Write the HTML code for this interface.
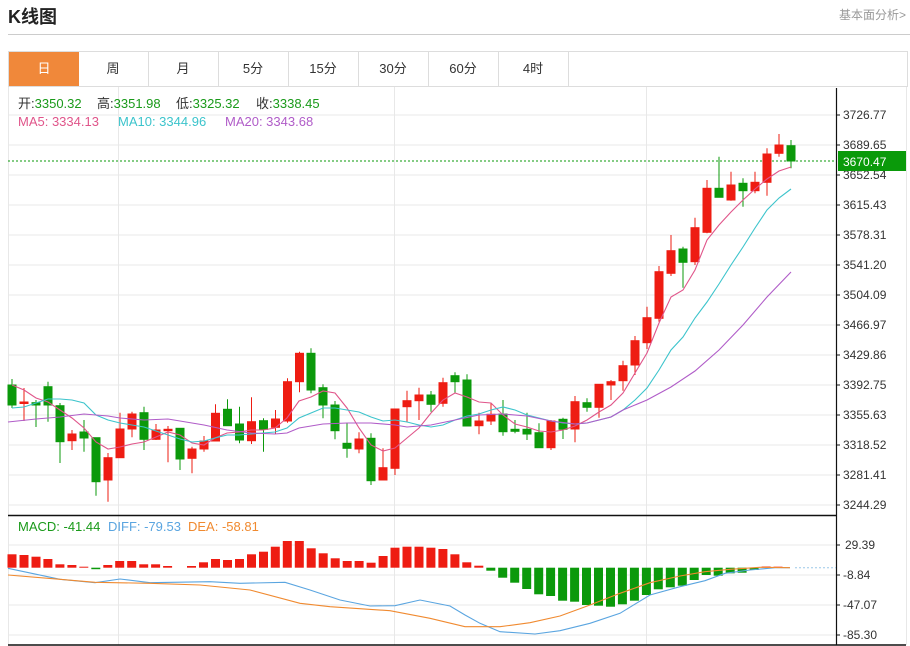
<!DOCTYPE html>
<html><head><meta charset="utf-8"><style>
body{margin:0;width:910px;height:646px;background:#fff;overflow:hidden;font-family:"Liberation Sans","Noto Sans CJK SC",sans-serif;position:relative}
.t{position:absolute;left:8px;top:3px;font-size:18px;font-weight:bold;color:#222}
.lk{position:absolute;right:4px;top:6px;font-size:12px;color:#999}
.hr{position:absolute;left:8px;right:0;top:34px;border-top:1px solid #ccc}
.tabs{position:absolute;left:8px;top:51px;width:898px;height:34px;border:1px solid #ddd;box-sizing:content-box}
.tab{position:absolute;top:0;height:34px;width:70px;border-right:1px solid #ddd;text-align:center;line-height:34px;font-size:13px;color:#333}
.tab.on{background:#f0883a;color:#fff;border-right:none}
svg{position:absolute;left:0;top:0}
</style></head><body>
<div class="t">K线图</div>
<div class="lk">基本面分析&gt;</div>
<div class="hr"></div>
<div class="tabs">
<div class="tab on" style="left:0">日</div>
<div class="tab" style="left:69px">周</div>
<div class="tab" style="left:139px">月</div>
<div class="tab" style="left:209px">5分</div>
<div class="tab" style="left:279px">15分</div>
<div class="tab" style="left:349px">30分</div>
<div class="tab" style="left:419px">60分</div>
<div class="tab" style="left:489px">4时</div>
</div>
<svg width="910" height="646" viewBox="0 0 910 646" font-family="Liberation Sans, Noto Sans CJK SC, sans-serif">
<g stroke="#e8e8e8" stroke-width="1">
<line x1="8" y1="115" x2="836" y2="115"/><line x1="8" y1="145" x2="836" y2="145"/><line x1="8" y1="175" x2="836" y2="175"/><line x1="8" y1="205" x2="836" y2="205"/><line x1="8" y1="235" x2="836" y2="235"/><line x1="8" y1="265" x2="836" y2="265"/><line x1="8" y1="295" x2="836" y2="295"/><line x1="8" y1="325" x2="836" y2="325"/><line x1="8" y1="355" x2="836" y2="355"/><line x1="8" y1="385" x2="836" y2="385"/><line x1="8" y1="415" x2="836" y2="415"/><line x1="8" y1="445" x2="836" y2="445"/><line x1="8" y1="475" x2="836" y2="475"/><line x1="8" y1="505" x2="836" y2="505"/>
<line x1="8" y1="545" x2="836" y2="545"/><line x1="8" y1="575" x2="836" y2="575"/><line x1="8" y1="605" x2="836" y2="605"/><line x1="8" y1="635" x2="836" y2="635"/>
<line x1="118.5" y1="87" x2="118.5" y2="645"/><line x1="394.5" y1="87" x2="394.5" y2="645"/><line x1="646.5" y1="87" x2="646.5" y2="645"/>
<line x1="8.5" y1="87" x2="8.5" y2="645"/><line x1="906.5" y1="87" x2="906.5" y2="645"/>
</g>
<line x1="8" y1="515.5" x2="836" y2="515.5" stroke="#111" stroke-width="1.5"/>
<line x1="8" y1="645" x2="906" y2="645" stroke="#111" stroke-width="1.5"/>
<line x1="836.5" y1="88" x2="836.5" y2="645" stroke="#111" stroke-width="1.2"/>
<g stroke="#111"><line x1="836" y1="115" x2="840" y2="115"/><line x1="836" y1="145" x2="840" y2="145"/><line x1="836" y1="175" x2="840" y2="175"/><line x1="836" y1="205" x2="840" y2="205"/><line x1="836" y1="235" x2="840" y2="235"/><line x1="836" y1="265" x2="840" y2="265"/><line x1="836" y1="295" x2="840" y2="295"/><line x1="836" y1="325" x2="840" y2="325"/><line x1="836" y1="355" x2="840" y2="355"/><line x1="836" y1="385" x2="840" y2="385"/><line x1="836" y1="415" x2="840" y2="415"/><line x1="836" y1="445" x2="840" y2="445"/><line x1="836" y1="475" x2="840" y2="475"/><line x1="836" y1="505" x2="840" y2="505"/><line x1="836" y1="545" x2="840" y2="545"/><line x1="836" y1="575" x2="840" y2="575"/><line x1="836" y1="605" x2="840" y2="605"/><line x1="836" y1="635" x2="840" y2="635"/></g>
<g font-size="12" fill="#333">
<text x="843" y="119">3726.77</text><text x="843" y="149">3689.65</text><text x="843" y="179">3652.54</text><text x="843" y="209">3615.43</text><text x="843" y="239">3578.31</text><text x="843" y="269">3541.20</text><text x="843" y="299">3504.09</text><text x="843" y="329">3466.97</text><text x="843" y="359">3429.86</text><text x="843" y="389">3392.75</text><text x="843" y="419">3355.63</text><text x="843" y="449">3318.52</text><text x="843" y="479">3281.41</text><text x="843" y="509">3244.29</text>
<text x="845" y="549">29.39</text><text x="843" y="579">-8.84</text><text x="843" y="609">-47.07</text><text x="843" y="639">-85.30</text>
</g>
<line x1="8" y1="161" x2="836" y2="161" stroke="#0a9a0a" stroke-dasharray="2,2"/>
<rect x="838" y="151" width="68" height="20" fill="#0a9a0a"/>
<text x="843" y="166" font-size="12" fill="#fff">3670.47</text>
<g font-size="13">
<text x="18" y="108" fill="#333">开:<tspan fill="#1a9a1a">3350.32</tspan></text>
<text x="97" y="108" fill="#333">高:<tspan fill="#1a9a1a">3351.98</tspan></text>
<text x="176" y="108" fill="#333">低:<tspan fill="#1a9a1a">3325.32</tspan></text>
<text x="256" y="108" fill="#333">收:<tspan fill="#1a9a1a">3338.45</tspan></text>
<text x="18" y="126" fill="#e0558a">MA5: 3334.13</text><text x="118" y="126" fill="#3cc4cc">MA10: 3344.96</text><text x="225" y="126" fill="#b05cc8">MA20: 3343.68</text>
<text x="18" y="531" fill="#1a9a1a">MACD: -41.44</text><text x="108" y="531" fill="#5aa5e0">DIFF: -79.53</text><text x="188" y="531" fill="#f08a30">DEA: -58.81</text>
</g>
<g stroke-width="1">
<g stroke="#0b990b" fill="#0b990b">
<line x1="12" y1="379" x2="12" y2="408"/><rect x="8" y="385" width="8" height="20"/>
<line x1="36" y1="400" x2="36" y2="427"/><rect x="32" y="402.7" width="8" height="2.3"/>
<line x1="48" y1="381.7" x2="48" y2="421.7"/><rect x="44" y="386.7" width="8" height="18.3"/>
<line x1="60" y1="403" x2="60" y2="463"/><rect x="56" y="405.7" width="8" height="36"/>
<line x1="84" y1="420" x2="84" y2="451.7"/><rect x="80" y="432" width="8" height="6"/>
<line x1="96" y1="437.7" x2="96" y2="495.7"/><rect x="92" y="437.7" width="8" height="44"/>
<line x1="144" y1="406.7" x2="144" y2="450"/><rect x="140" y="412.7" width="8" height="26.6"/>
<line x1="180" y1="428" x2="180" y2="470"/><rect x="176" y="428.3" width="8" height="30.7"/>
<line x1="227.5" y1="399.3" x2="227.5" y2="425.7"/><rect x="223.5" y="409.3" width="8" height="16.4"/>
<line x1="239.5" y1="406.7" x2="239.5" y2="443.3"/><rect x="235.5" y="424" width="8" height="16"/>
<line x1="263.5" y1="418.3" x2="263.5" y2="451.7"/><rect x="259.5" y="420.7" width="8" height="8.6"/>
<line x1="311" y1="348.3" x2="311" y2="393.3"/><rect x="307" y="353.3" width="8" height="36.7"/>
<line x1="323" y1="384.3" x2="323" y2="418.3"/><rect x="319" y="387.7" width="8" height="17.3"/>
<line x1="335" y1="401" x2="335" y2="439.3"/><rect x="331" y="405" width="8" height="25.7"/>
<line x1="347" y1="423.3" x2="347" y2="457.7"/><rect x="343" y="443.3" width="8" height="5"/>
<line x1="371" y1="433.3" x2="371" y2="485"/><rect x="367" y="438.3" width="8" height="42.4"/>
<line x1="431" y1="391" x2="431" y2="411.7"/><rect x="427" y="395" width="8" height="9.3"/>
<line x1="455" y1="372.3" x2="455" y2="393.3"/><rect x="451" y="375.7" width="8" height="6"/>
<line x1="467" y1="374.3" x2="467" y2="426"/><rect x="463" y="380" width="8" height="46"/>
<line x1="503" y1="400" x2="503" y2="435.7"/><rect x="499" y="414" width="8" height="17.7"/>
<line x1="515" y1="420" x2="515" y2="433.3"/><rect x="511" y="429.3" width="8" height="2"/>
<line x1="527" y1="412.7" x2="527" y2="440"/><rect x="523" y="429.3" width="8" height="4.7"/>
<line x1="539" y1="423.3" x2="539" y2="447.7"/><rect x="535" y="432.7" width="8" height="15"/>
<line x1="563" y1="417.7" x2="563" y2="439"/><rect x="559" y="419.3" width="8" height="10"/>
<line x1="587" y1="398.3" x2="587" y2="411.7"/><rect x="583" y="402.7" width="8" height="4.6"/>
<line x1="683" y1="246.7" x2="683" y2="287.7"/><rect x="679" y="249" width="8" height="13.3"/>
<line x1="719" y1="156.7" x2="719" y2="197.3"/><rect x="715" y="188.3" width="8" height="9"/>
<line x1="743" y1="178.3" x2="743" y2="206.7"/><rect x="739" y="183.3" width="8" height="7.4"/>
<line x1="791" y1="140" x2="791" y2="168.3"/><rect x="787" y="145.7" width="8" height="15.3"/>
</g>
<g stroke="#ee1c12" fill="#ee1c12">
<line x1="24" y1="388" x2="24" y2="421"/><rect x="20" y="402" width="8" height="1.5"/>
<line x1="72" y1="430" x2="72" y2="450"/><rect x="68" y="434" width="8" height="6.7"/>
<line x1="108" y1="453" x2="108" y2="501.7"/><rect x="104" y="457.7" width="8" height="22.3"/>
<line x1="120" y1="412.7" x2="120" y2="457.7"/><rect x="116" y="429" width="8" height="28.7"/>
<line x1="132" y1="411.7" x2="132" y2="437.3"/><rect x="128" y="414" width="8" height="15"/>
<line x1="156" y1="424" x2="156" y2="440"/><rect x="152" y="430" width="8" height="9.3"/>
<line x1="168" y1="426" x2="168" y2="462.3"/><rect x="164" y="429.3" width="8" height="1.4"/>
<line x1="192" y1="446.7" x2="192" y2="473.3"/><rect x="188" y="449" width="8" height="9.3"/>
<line x1="204" y1="436" x2="204" y2="451.7"/><rect x="200" y="441" width="8" height="8"/>
<line x1="215.5" y1="404.3" x2="215.5" y2="441"/><rect x="211.5" y="413.3" width="8" height="27.7"/>
<line x1="251.5" y1="397.3" x2="251.5" y2="444"/><rect x="247.5" y="421.7" width="8" height="19"/>
<line x1="275.5" y1="410" x2="275.5" y2="434"/><rect x="271.5" y="419" width="8" height="8.3"/>
<line x1="287.5" y1="378.3" x2="287.5" y2="422.7"/><rect x="283.5" y="381.7" width="8" height="39.3"/>
<line x1="299.5" y1="351.7" x2="299.5" y2="392.3"/><rect x="295.5" y="353.3" width="8" height="28.4"/>
<line x1="359" y1="432.3" x2="359" y2="453.3"/><rect x="355" y="439" width="8" height="10"/>
<line x1="383" y1="448.3" x2="383" y2="480"/><rect x="379" y="467.7" width="8" height="12.3"/>
<line x1="395" y1="409" x2="395" y2="475"/><rect x="391" y="409" width="8" height="59.3"/>
<line x1="407" y1="390.7" x2="407" y2="422.3"/><rect x="403" y="400.7" width="8" height="6"/>
<line x1="419" y1="387.7" x2="419" y2="420"/><rect x="415" y="395" width="8" height="5.7"/>
<line x1="443" y1="377.7" x2="443" y2="406.7"/><rect x="439" y="382.7" width="8" height="20.6"/>
<line x1="479" y1="412.7" x2="479" y2="434.3"/><rect x="475" y="421" width="8" height="4.7"/>
<line x1="491" y1="403.3" x2="491" y2="425"/><rect x="487" y="414.3" width="8" height="6.7"/>
<line x1="551" y1="420" x2="551" y2="450"/><rect x="547" y="421" width="8" height="26.7"/>
<line x1="575" y1="396" x2="575" y2="442.3"/><rect x="571" y="401.7" width="8" height="27.3"/>
<line x1="599" y1="384.3" x2="599" y2="417.7"/><rect x="595" y="384.3" width="8" height="23"/>
<line x1="611" y1="380" x2="611" y2="400"/><rect x="607" y="381.7" width="8" height="3.3"/>
<line x1="623" y1="360.7" x2="623" y2="390.7"/><rect x="619" y="365.7" width="8" height="15"/>
<line x1="635" y1="336" x2="635" y2="375"/><rect x="631" y="340.7" width="8" height="24.3"/>
<line x1="647" y1="306.7" x2="647" y2="349"/><rect x="643" y="317.7" width="8" height="25"/>
<line x1="659" y1="266" x2="659" y2="321.7"/><rect x="655" y="271.7" width="8" height="46.6"/>
<line x1="671" y1="235" x2="671" y2="276"/><rect x="667" y="250.7" width="8" height="22.6"/>
<line x1="695" y1="217.7" x2="695" y2="265"/><rect x="691" y="227.7" width="8" height="34"/>
<line x1="707" y1="180" x2="707" y2="233.3"/><rect x="703" y="188.3" width="8" height="44"/>
<line x1="731" y1="171.7" x2="731" y2="200.7"/><rect x="727" y="185" width="8" height="15"/>
<line x1="755" y1="171.7" x2="755" y2="193.3"/><rect x="751" y="182.3" width="8" height="8.4"/>
<line x1="767" y1="148.3" x2="767" y2="195.7"/><rect x="763" y="154" width="8" height="28.3"/>
<line x1="779" y1="134" x2="779" y2="156.7"/><rect x="775" y="145" width="8" height="8.3"/>
</g>
</g>
<g fill="none" stroke-width="1.1">
<polyline stroke="#e0558a" points="12,385 24,390 36,398 48,402 60,410 72,418 84,428 96,442 108,449 120,447 132,444 144,442 156,437 168,432 180,435 192,443 204,445 215,438 227,433 239,432 251,430 263,430 275,428 287,418 299,401 311,397 323,391 335,393 347,408 359,428 371,445 383,451 395,448 407,438 419,428 431,413 443,400 455,393 467,397 479,402 491,403 503,415 515,424 527,427 539,431 551,432 563,430 575,426 587,420 599,412 611,405 623,393 635,373 647,353 659,323 671,297 683,290 695,270 707,240 719,225 731,212 743,200 755,189 767,179 779,171 791,167"/>
<polyline stroke="#3cc4cc" points="12,408 24,407 36,403 48,399 60,399 72,400 84,403 96,415 108,420 120,423 132,425 144,427 156,431 168,435 180,439 192,442 204,441 215,438 227,435 239,435 251,434 263,433 275,432 287,428 299,418 311,413 323,408 335,408 347,410 359,412 371,417 383,421 395,420 407,422 419,425 431,427 443,425 455,420 467,416 479,414 491,410 503,407 515,410 527,415 539,418 551,421 563,423 575,424 587,423 599,420 611,417 623,410 635,400 647,388 659,370 671,350 683,337 695,318 707,302 719,284 731,265 743,247 755,228 767,210 779,198 791,189"/>
<polyline stroke="#b05cc8" points="8,422 36,419 60,417 84,414 96,415 108,416 120,418 144,420 168,419 192,423 204,425 227,430 251,433 275,434 287,433 299,428 323,424 347,423 371,423 395,425 407,427 431,425 455,420 479,415 503,414 527,416 551,421 575,424 587,423 611,417 623,410 647,400 671,387 695,371 719,350 743,325 767,297 791,272"/>
</g>
<line x1="795" y1="567.7" x2="836" y2="567.7" stroke="#9cc8e8" stroke-dasharray="2,2"/>
<g fill="#ee1c12">
<rect x="7.5" y="554.3" width="9" height="13.4"/><rect x="19.5" y="555" width="9" height="12.7"/><rect x="31.5" y="556.7" width="9" height="11"/><rect x="43.4" y="559" width="9" height="8.7"/><rect x="55.4" y="564.3" width="9" height="3.4"/><rect x="67.4" y="565" width="9" height="2.7"/><rect x="79.3" y="566.7" width="9" height="1"/>
<rect x="103.3" y="565" width="9" height="2.7"/><rect x="115.2" y="561" width="9" height="6.7"/><rect x="127.2" y="561" width="9" height="6.7"/><rect x="139.2" y="564.3" width="9" height="3.4"/><rect x="151.1" y="564.3" width="9" height="3.4"/><rect x="163.1" y="566" width="9" height="1.7"/><rect x="187" y="566" width="9" height="1.7"/><rect x="199" y="562.3" width="9" height="5.4"/><rect x="211" y="559" width="9" height="8.7"/><rect x="223" y="560" width="9" height="7.7"/><rect x="235" y="559" width="9" height="8.7"/><rect x="247" y="554.3" width="9" height="13.4"/><rect x="259" y="551.7" width="9" height="16"/><rect x="270.8" y="546.7" width="9" height="21"/><rect x="282.8" y="541" width="9" height="26.7"/><rect x="294.8" y="541" width="9" height="26.7"/><rect x="306.7" y="548.3" width="9" height="19.4"/><rect x="318.7" y="553.3" width="9" height="14.4"/><rect x="330.7" y="558.3" width="9" height="9.4"/><rect x="342.7" y="561" width="9" height="6.7"/><rect x="354.6" y="561" width="9" height="6.7"/><rect x="366.6" y="562.7" width="9" height="5"/><rect x="378.6" y="556" width="9" height="11.7"/><rect x="390.5" y="547.7" width="9" height="20"/><rect x="402.5" y="546.7" width="9" height="21"/><rect x="414.5" y="546.7" width="9" height="21"/><rect x="426.4" y="547.7" width="9" height="20"/><rect x="438.4" y="549" width="9" height="18.7"/><rect x="450.4" y="554.3" width="9" height="13.4"/><rect x="462.3" y="562.3" width="9" height="5.4"/><rect x="474.3" y="565.7" width="9" height="2"/>
<rect x="761.6" y="566.5" width="9" height="1.2"/><rect x="773.5" y="566.7" width="9" height="1"/>
</g>
<g fill="#0b990b">
<rect x="91.3" y="567.7" width="9" height="1.5"/>
<rect x="486.3" y="567.7" width="9" height="3"/><rect x="498.2" y="567.7" width="9" height="10"/><rect x="510.2" y="567.7" width="9" height="15"/><rect x="522.2" y="567.7" width="9" height="21.3"/><rect x="534.2" y="567.7" width="9" height="26.6"/><rect x="546.1" y="567.7" width="9" height="28.3"/><rect x="558.1" y="567.7" width="9" height="33"/><rect x="570.1" y="567.7" width="9" height="34"/><rect x="582" y="567.7" width="9" height="37.3"/><rect x="594" y="567.7" width="9" height="38"/><rect x="606" y="567.7" width="9" height="39"/><rect x="617.9" y="567.7" width="9" height="36.6"/><rect x="629.9" y="567.7" width="9" height="33"/><rect x="641.9" y="567.7" width="9" height="27.3"/><rect x="653.8" y="567.7" width="9" height="21.6"/><rect x="665.8" y="567.7" width="9" height="19.6"/><rect x="677.8" y="567.7" width="9" height="18"/><rect x="689.7" y="567.7" width="9" height="12.3"/><rect x="701.7" y="567.7" width="9" height="7.3"/><rect x="713.7" y="567.7" width="9" height="8"/><rect x="725.7" y="567.7" width="9" height="5.6"/><rect x="737.6" y="567.7" width="9" height="5"/><rect x="749.6" y="567.7" width="9" height="2.3"/>
</g>
<g fill="none" stroke-width="1.1">
<polyline stroke="#5aa5e0" points="8,568.3 60,579.3 95,582.7 120,579 150,582.7 210,581.7 240,583.3 285,582.3 310,590 340,600 370,606 395,605.7 420,600 450,606 465,615 480,623.3 500,631.7 535,634 560,630.7 590,623.3 620,613.3 650,595 680,586.7 705,580.7 725,573.3 750,570 775,567.7 790,567.7"/>
<polyline stroke="#f08a30" points="8,575 60,579.3 95,582.3 150,583.3 200,585 250,590 300,603.3 330,606.7 390,610.7 430,618.3 465,626.7 500,626.7 530,622.7 560,616 590,605 620,593.3 650,582.7 680,576 705,571.7 730,569.3 760,567.3 790,567.7"/>
</g>
</svg>
</body></html>
